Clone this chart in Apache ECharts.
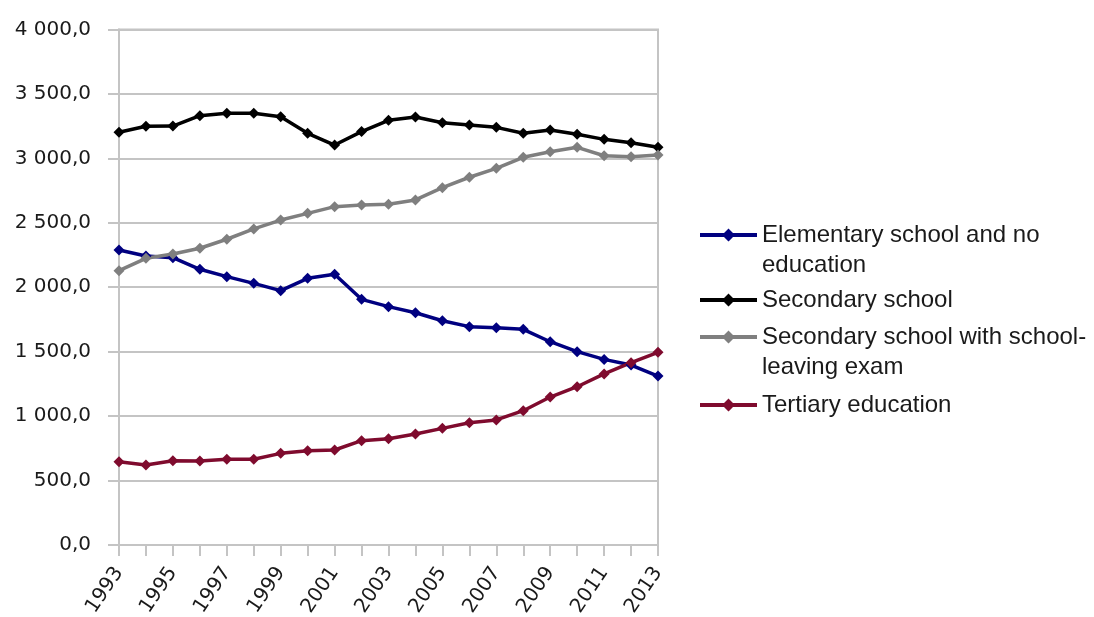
<!DOCTYPE html>
<html>
<head>
<meta charset="utf-8">
<script src="https://cdn.jsdelivr.net/npm/echarts@6/dist/echarts.min.js"></script>
<style>
  html, body { margin: 0; padding: 0; background: #ffffff; }
  #chart { width: 1094px; height: 617px; }
</style>
</head>
<body>
<div id="chart"></div>
<script>
// Population by highest completed education, 1993–2013 (thousands)
const years = ['1993','1994','1995','1996','1997','1998','1999','2000','2001','2002','2003',
               '2004','2005','2006','2007','2008','2009','2010','2011','2012','2013'];

const elementary = [2289, 2242, 2229, 2139, 2082, 2030, 1973, 2069, 2100, 1906, 1849,
                    1802, 1740, 1694, 1686, 1673, 1577, 1500, 1440, 1396, 1311];
const secondary  = [3202, 3248, 3250, 3331, 3349, 3350, 3323, 3194, 3103, 3207, 3295,
                    3320, 3276, 3258, 3240, 3194, 3220, 3186, 3147, 3121, 3085];
const withExam   = [2128, 2224, 2258, 2302, 2372, 2452, 2521, 2573, 2625, 2638, 2644,
                    2677, 2772, 2853, 2922, 3008, 3051, 3085, 3020, 3012, 3026];
const tertiary   = [646, 621, 654, 652, 665, 665, 711, 732, 737, 809, 825,
                    861, 905, 949, 970, 1042, 1148, 1228, 1327, 1414, 1495];

const seriesNames = [
  'Elementary school and no education',
  'Secondary school',
  'Secondary school with school-leaving exam',
  'Tertiary education'
];
// legend labels, wrapped onto lines
const legendLabels = [
  'Elementary school and no\neducation',
  'Secondary school',
  'Secondary school with school-\nleaving exam',
  'Tertiary education'
];
const seriesColors = ['#000080', '#000000', '#7f7f7f', '#7f0b2e'];
const seriesData = [elementary, secondary, withExam, tertiary];

const AXIS_FONT = '"DejaVu Sans", Verdana, sans-serif';
const LEGEND_FONT = '"Liberation Sans", Arial, sans-serif';
const GRID = '#c4c4c4';

function fmt(v) {
  const s = v.toFixed(1);
  const [intPart, dec] = s.split('.');
  return intPart.replace(/\B(?=(\d{3})+(?!\d))/g, ' ') + ',' + dec;
}

// legend key: thick line with a diamond; the taller variant keeps the key
// beside the first line of a wrapped label
const KEY = 'M0,5 L24,5 L28.5,0.5 L33,5 L57,5 L57,9 L33,9 L28.5,13.5 L24,9 L0,9 Z';
function keyIcon(boxHeight) {
  return 'path://' + KEY +
    ' M0,0 L0.01,0 L0,0.01 Z M0,' + boxHeight + ' L0.01,' + boxHeight + ' L0,' + (boxHeight - 0.01) + ' Z';
}

const legendTops = [220, 285, 322, 390];
const legends = seriesNames.map((name, i) => {
  const twoLines = legendLabels[i].indexOf('\n') >= 0;
  const h = twoLines ? 44 : 14;
  return {
    left: 700,
    top: legendTops[i],
    padding: 0,
    orient: 'vertical',
    itemWidth: 57,
    itemHeight: h,
    itemGap: 0,
    symbolKeepAspect: false,
    data: [{ name: name, icon: keyIcon(h) }],
    formatter: () => legendLabels[i],
    textStyle: {
      fontFamily: LEGEND_FONT,
      fontSize: 24,
      lineHeight: 30,
      color: '#1a1a1a'
    }
  };
});

const chart = echarts.init(document.getElementById('chart'));
chart.setOption({
  animation: false,
  backgroundColor: '#ffffff',
  legend: legends,
  grid: {
    left: 119, right: 436, top: 29.4, bottom: 72,
    outerBoundsMode: 'none',
    show: true, borderColor: GRID, borderWidth: 2
  },
  xAxis: {
    type: 'category',
    data: years,
    boundaryGap: false,
    axisLine: { lineStyle: { color: GRID, width: 2 } },
    axisTick: { show: true, interval: 0, length: 11, lineStyle: { color: GRID, width: 2 } },
    axisLabel: {
      interval: 1, rotate: 56, margin: 24,
      fontFamily: AXIS_FONT, fontSize: 20, color: '#1a1a1a'
    },
    splitLine: { show: false }
  },
  yAxis: {
    type: 'value',
    min: 0, max: 4000, interval: 500,
    axisLine: { show: true, lineStyle: { color: GRID, width: 2 } },
    axisTick: { show: true, length: 11, lineStyle: { color: GRID, width: 2 } },
    axisLabel: {
      formatter: fmt, margin: 28,
      fontFamily: AXIS_FONT, fontSize: 20, color: '#1a1a1a'
    },
    splitLine: { show: true, lineStyle: { color: GRID, width: 2 } }
  },
  series: seriesNames.map((name, i) => ({
    name: name,
    type: 'line',
    data: seriesData[i],
    color: seriesColors[i],
    symbol: 'diamond',
    symbolSize: 11,
    showAllSymbol: true,
    lineStyle: { width: 3.5, color: seriesColors[i] },
    itemStyle: { color: seriesColors[i] }
  }))
});
</script>
</body>
</html>
